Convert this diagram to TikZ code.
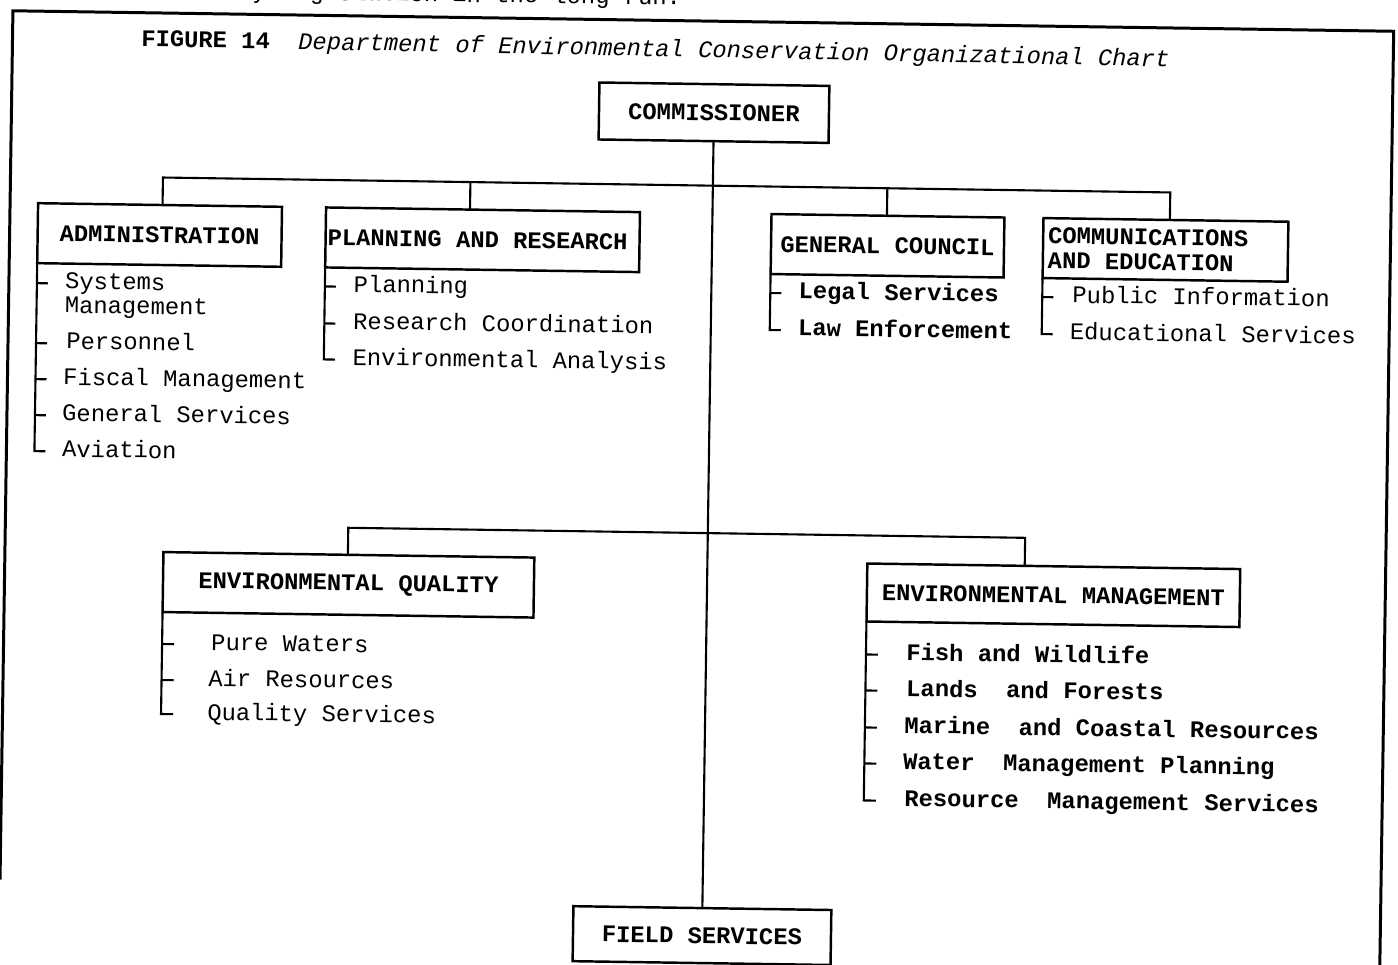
\documentclass[tikz,border=0pt]{standalone}
\usepackage{fontspec}
\newfontfamily\typer[WordSpace={1,0,0}]{Liberation Mono}
\newcommand\chartsize{\fontsize{13.55pt}{14.2pt}\selectfont}
\usetikzlibrary{calc}

\begin{document}
\begin{tikzpicture}[x=0.02cm, y=-0.02cm,
  box/.style={draw, line width=1.4pt, inner sep=0pt, outer sep=0pt,
              font=\typer\bfseries\chartsize},
  item/.style={anchor=west, inner sep=0pt, font=\typer\chartsize,
               text height=9pt, text depth=3pt},
  bolditem/.style={item, font=\typer\bfseries\chartsize},
  link/.style={line width=1.2pt},
  tick/.style={line width=1.2pt},
  frame/.style={line width=1.7pt}]

\useasboundingbox (0,0) rectangle (1398,964);
\clip (0,0) rectangle (1398,964);

% the typed page sits slightly askew on the scan
\begin{scope}[rotate around={-0.85:(699,482)}, transform shape]

% page frame
\coordinate (fBL) at (6,890);
\coordinate (fTL) at (6,21);
\coordinate (fTR) at (1387,21);
\coordinate (fBR) at (1387,1010);
\draw[frame] (fBL) -- (fTL) -- (fTR) -- (fBR);

% last line of the preceding paragraph
\node[anchor=base west, inner sep=0pt, font=\typer\chartsize] (runon) at (245,5.5)
  {y legislation in the long run.};

% caption
\node[anchor=west, inner sep=0pt, font=\typer\bfseries\chartsize] (fig) at (134.5,47) {FIGURE 14};
\node[anchor=west, inner sep=0pt, font=\typer\itshape\chartsize, rotate=-0.3] (ttl) at (291.5,49)
  {Department of Environmental Conservation Organizational Chart};

% boxes
\node[box, minimum width=4.6cm, minimum height=1.14cm] (cm) at (708.5,112.5) {COMMISSIONER};
\node[box, minimum width=4.88cm, minimum height=1.2cm] (adm) at (156,243) {ADMINISTRATION};
\node[box, minimum width=6.28cm, minimum height=1.2cm] (pln) at (479,243)
  {\makebox[6.2cm][l]{PLANNING AND RESEARCH}};
\node[box, minimum width=4.66cm, minimum height=1.2cm] (gc) at (884,243) {GENERAL COUNCIL};
\node[box, minimum width=4.9cm, minimum height=1.2cm, align=left] (com) at (1162,243)
  {\makebox[4.7cm][l]{COMMUNICATIONS}\\\makebox[4.7cm][l]{AND EDUCATION}};
\node[box, minimum width=7.42cm, minimum height=1.2cm] (eq) at (350,590) {ENVIRONMENTAL QUALITY};
\node[box, minimum width=7.46cm, minimum height=1.16cm] (em) at (1055,590) {ENVIRONMENTAL MANAGEMENT};
\node[box, minimum width=5.16cm, minimum height=1.1cm] (fs) at (708.7,935.5) {FIELD SERVICES};

% sub-units
\node[item] (a1) at (62,293) {Systems};
\node[item] (a1b) at (62,317) {Management};
\node[item] (a2) at (64,353) {Personnel};
\node[item] (a3) at (61.5,389) {Fiscal Management};
\node[item] (a4) at (61,425) {General Services};
\node[item] (a5) at (61.5,461) {Aviation};

\node[item] (p1) at (350.6,292) {Planning};
\node[item] (p2) at (350.6,329) {Research Coordination};
\node[item] (p3) at (350.6,365) {Environmental Analysis};

\node[bolditem] (g1) at (795.5,292) {Legal Services};
\node[bolditem] (g2) at (795.5,329) {Law Enforcement};

\node[item] (c1) at (1069.4,292) {Public Information};
\node[item] (c2) at (1067.4,329) {Educational Services};

\node[item] (q1) at (213.4,652) {Pure Waters};
\node[item] (q2) at (211,688) {Air Resources};
\node[item] (q3) at (210.5,722) {Quality Services};

\node[bolditem] (m1) at (908.6,652) {Fish and Wildlife};
\node[bolditem] (m2) at (909,688) {Lands~ and Forests};
\node[bolditem] (m3) at (907.7,725) {Marine~ and Coastal Resources};
\node[bolditem] (m4) at (907,761) {Water~ Management Planning};
\node[bolditem] (m5) at (908.8,798) {Resource~ Management Services};

% main line of authority
\draw[link] (cm.south) -- (fs.north);

% upper branch
\coordinate (tA) at (158.5,185.5);
\coordinate (tB) at (466,185.5);
\coordinate (tC) at (883,185.5);
\coordinate (tD) at (1166,185.5);
\draw[link] (tA |- adm.north) -- (tA) -- (tD) -- (tD |- com.north);
\draw[link] (tB) -- (tB |- pln.north);
\draw[link] (tC) -- (tC |- gc.north);

% lower branch
\coordinate (bL) at (349,533);
\coordinate (bR) at (1026,533);
\draw[link] (bL |- eq.north) -- (bL) -- (bR) -- (bR |- em.north);

% brackets listing the sub-units
\draw[tick] (adm.south west) -- (adm.south west |- a5.west) -- ++(11,0);
\foreach \i in {a1,a2,a3,a4} \draw[tick] (adm.south west |- \i.west) -- ++(11,0);

\draw[tick] (pln.south west) -- (pln.south west |- p3.west) -- ++(11,0);
\foreach \i in {p1,p2} \draw[tick] (pln.south west |- \i.west) -- ++(11,0);

\draw[tick] (gc.south west) -- (gc.south west |- g2.west) -- ++(11,0);
\draw[tick] (gc.south west |- g1.west) -- ++(11,0);

\draw[tick] (com.south west) -- (com.south west |- c2.west) -- ++(11,0);
\draw[tick] (com.south west |- c1.west) -- ++(11,0);

\draw[tick] (eq.south west) -- (eq.south west |- q3.west) -- ++(12,0);
\foreach \i in {q1,q2} \draw[tick] (eq.south west |- \i.west) -- ++(12,0);

\draw[tick] (em.south west) -- (em.south west |- m5.west) -- ++(12,0);
\foreach \i in {m1,m2,m3,m4} \draw[tick] (em.south west |- \i.west) -- ++(12,0);

\end{scope}
\end{tikzpicture}
\end{document}
